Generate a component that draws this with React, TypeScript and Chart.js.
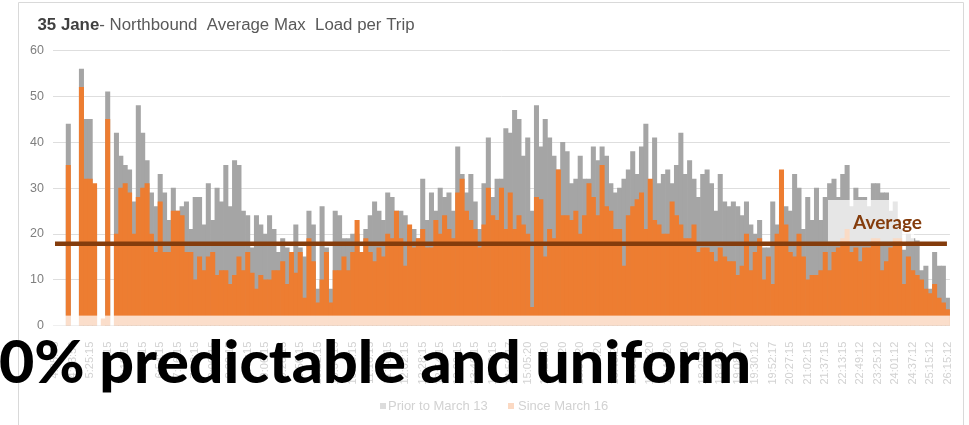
import React, { useEffect, useRef } from "react";
import { Chart, registerables } from "chart.js";

Chart.register(...registerables);

// Average max load per trip, by departure time (one bar per trip)
const PRIOR: (number | null)[] = [
  null, null, null, 44, null, null, 56, 45, 45, 30,
  null, null, 51, null, 42, 37, 35, 34, 27, 48,
  42, 36, 29, 26, 33, 29, 23, 30, 25, 26,
  27, 21, 28, 28, 22, 31, 23, 30, 27, 35,
  26, 36, 35, 25, 24, 17, 24, 22, 20, 24,
  21, 16, 19, 17, 16, 22, 17, 15, 25, 22,
  8, 26, 17, 8, 25, 24, 19, 19, 20, 20,
  16, 21, 24, 27, 25, 23, 29, 28, 25, 25,
  24, 21, 21, 19, 32, 23, 29, 25, 30, 28,
  29, 25, 39, 33, 29, 33, 27, 21, 31, 41,
  28, 32, 32, 43, 42, 47, 45, 37, 41, 25,
  48, 39, 45, 41, 37, 34, 40, 38, 31, 32,
  37, 32, 32, 39, 36, 39, 37, 31, 29, 30,
  32, 34, 38, 33, 39, 44, 31, 41, 31, 33,
  34, 31, 35, 42, 33, 36, 32, 28, 33, 34,
  31, 25, 33, 27, 26, 27, 26, 24, 27, 22,
  20, 23, 17, 17, 27, 22, 24, 26, 25, 33,
  30, 21, 28, 23, 30, 23, 28, 31, 32, 28,
  33, 35, 26, 30, 28, 28, 26, 31, 31, 29,
  29, 25, 27, 21, 16.5, 20, 19, 18.5, 12, 13,
  8, 16, 13, 13, 6,
];

const SINCE: (number | null)[] = [
  null, null, null, 35, null, null, 52, 32, 32, 31,
  null, 1.5, 45, null, 20, 30, 31, 29, 20, 28,
  30, 31, 20, 16, 27, 16, 16, 25, 25, 24,
  16, 16, 10, 15, 12, 15, 16, 11, 12, 12,
  9, 11, 15, 12, 16, 11.5, 8, 11, 10, 10,
  12, 12, 14, 9, 16, 11.5, 16, 6, 19, 14,
  5, 10, 16, 5, 12, 12, 15, 12, 16, 23,
  16, 19, 16, 14, 17, 15, 20, 19, 25, 19,
  13, 22, 17, 19, 21, 17, 17, 23, 20, 24,
  21, 19, 29, 32, 25, 23, 21, 17, 22, 30,
  24, 23, 30, 21, 29, 21, 24, 22, 20, 4,
  28, 27.5, 15, 21, 19, 34, 24, 24, 23, 25,
  20, 24, 31, 28, 24, 35, 26, 25, 21, 21,
  13, 24, 26, 27.5, 29, 21, 32, 23, 22, 20,
  20, 27, 24, 22, 19, 19, 22, 16, 17, 17,
  16, 14, 17, 15, 14, 14, 11, 13, 20, 12,
  16, 19, 10, 15, 9, 20, 34, 22, 16, 15,
  20, 15, 10, 11, 11, 12, 16, 12, 16, 17,
  19, 21, 16, 17, 14, 17, 17, 19, 19, 12,
  14, 17, 19, 19, 9, 15, 12, 11, 10, 8,
  7, 9, 6, 5, 3.5,
];

// Departure times shown on the axis (every fourth trip)
const TICK_LABELS: string[] = [
  "4:25:56", "4:53:56", "5:25:15", "5:48:15", "6:10:15", "6:32:15", "6:54:15", "7:16:15",
  "7:38:15", "8:00:15", "8:22:15", "8:44:15", "9:06:15", "9:28:15", "9:50:15", "10:12:15",
  "10:34:15", "10:56:15", "11:18:15", "11:40:15", "12:02:15", "12:28:15", "12:54:15", "13:20:15",
  "13:46:15", "14:12:15", "14:50:17", "15:05:20", "15:25:20", "15:45:20", "16:05:20", "16:25:20",
  "16:45:20", "17:05:20", "17:25:20", "17:45:20", "18:05:20", "18:25:20", "18:45:20", "19:08:17",
  "19:30:12", "19:52:17", "20:27:15", "21:02:15", "21:37:15", "22:13:15", "22:49:12", "23:25:12",
  "24:01:12", "24:37:12", "25:15:12", "26:15:12",
];

const AVERAGE = 17.9;
const BAND_TOP = 2.2;

const SERIES_PRIOR = "Prior to March 13";
const SERIES_SINCE = "Since March 16";

const CATEGORIES = PRIOR.map((_, i) => (i % 4 === 0 ? TICK_LABELS[i / 4] ?? "" : ""));

function fitText(ctx: CanvasRenderingContext2D, text: string, x: number, y: number, width: number) {
  const w = ctx.measureText(text).width;
  ctx.save();
  ctx.translate(x, y);
  ctx.scale(width / w, 1);
  ctx.fillText(text, 0, 0);
  ctx.restore();
}

const decorations = {
  id: "decorations",
  afterDraw(chart: any) {
    const { ctx, chartArea: a, scales } = chart;
    const y = scales.y;
    ctx.save();

    // outer frame
    ctx.strokeStyle = "#d9d9d9";
    ctx.lineWidth = 1;
    ctx.beginPath();
    ctx.moveTo(18.5, 425);
    ctx.lineTo(18.5, 2.5);
    ctx.lineTo(963.5, 2.5);
    ctx.lineTo(963.5, 425);
    ctx.stroke();

    // pale band along the base of the bars
    const bandTop = y.getPixelForValue(BAND_TOP);
    const base = y.getPixelForValue(0);
    ctx.fillStyle = "rgba(255,255,255,0.75)";
    ctx.fillRect(a.left, bandTop, a.right - a.left, base - bandTop);

    // average line with its label box
    const yAvg = y.getPixelForValue(AVERAGE);
    ctx.fillStyle = "rgba(255,255,255,0.72)";
    ctx.fillRect(828, 200, 86, yAvg - 2 - 200);
    ctx.strokeStyle = "#843c0c";
    ctx.lineWidth = 4.5;
    ctx.beginPath();
    ctx.moveTo(a.left + 2, yAvg);
    ctx.lineTo(a.right - 3, yAvg);
    ctx.stroke();
    ctx.fillStyle = "#843c0c";
    ctx.font = "bold 18px Lato";
    ctx.textBaseline = "alphabetic";
    fitText(ctx, "Average", 853, 228.5, 69);

    // title
    const bold = "35 Jane";
    const rest = "- Northbound  Average Max  Load per Trip";
    ctx.font = "bold 16px 'Liberation Sans'";
    const wb = ctx.measureText(bold).width;
    ctx.font = "16px 'Liberation Sans'";
    const wr = ctx.measureText(rest).width;
    const k = 377 / (wb + wr);
    ctx.save();
    ctx.translate(37.5, 30);
    ctx.scale(k, 1);
    ctx.font = "bold 16px 'Liberation Sans'";
    ctx.fillStyle = "#404040";
    ctx.fillText(bold, 0, 0);
    ctx.font = "16px 'Liberation Sans'";
    ctx.fillStyle = "#595959";
    ctx.fillText(rest, wb, 0);
    ctx.restore();

    // legend
    ctx.font = "13px 'Liberation Sans'";
    ctx.textBaseline = "middle";
    ctx.fillStyle = "#dcdcdc";
    ctx.fillRect(380, 403, 6, 6);
    ctx.fillStyle = "#d2d2d2";
    ctx.fillText(SERIES_PRIOR, 388, 406.5);
    ctx.fillStyle = "#fbd9c3";
    ctx.fillRect(508, 403, 6, 6);
    ctx.fillStyle = "#d2d2d2";
    ctx.fillText(SERIES_SINCE, 518, 406.5);

    // headline
    ctx.fillStyle = "#000000";
    ctx.font = "900 59px Lato";
    ctx.textBaseline = "alphabetic";
    fitText(ctx, "0% predictable and uniform", -1, 383, 752);

    ctx.restore();
  },
};

export default function App() {
  const canvasRef = useRef<HTMLCanvasElement | null>(null);

  useEffect(() => {
    const canvas = canvasRef.current;
    if (!canvas) return;
    const chart = new Chart(canvas, {
      type: "bar",
      data: {
        labels: CATEGORIES,
        datasets: [
          {
            label: SERIES_SINCE,
            data: SINCE,
            backgroundColor: "#ed7d31",
            grouped: false,
            barPercentage: 1,
            categoryPercentage: 1,
            borderWidth: 0,
            order: 0,
          } as any,
          {
            label: SERIES_PRIOR,
            data: PRIOR,
            backgroundColor: "#a5a5a5",
            grouped: false,
            barPercentage: 1,
            categoryPercentage: 1,
            borderWidth: 0,
            order: 1,
          } as any,
        ],
      },
      options: {
        responsive: false,
        animation: false,
        devicePixelRatio: 1,
        layout: { padding: { left: 0, right: 19, top: 50.7, bottom: 0 } },
        plugins: {
          legend: { display: false },
          title: { display: false },
          tooltip: { enabled: false },
        },
        scales: {
          x: {
            grid: { display: false },
            border: { display: false },
            ticks: {
              autoSkip: false,
              minRotation: 90,
              maxRotation: 90,
              padding: 8,
              color: "#d2d2d2",
              font: { size: 11, family: "'Liberation Sans'" },
            },
            afterFit: (s: any) => {
              s.height = 99.3;
            },
          },
          y: {
            min: 0,
            max: 60,
            grid: { color: "#dedede", drawTicks: false },
            border: { display: false },
            ticks: {
              stepSize: 10,
              padding: 9,
              color: "#7f7f7f",
              font: { size: 12.5, family: "'Liberation Sans'" },
            },
            afterFit: (s: any) => {
              s.width = 53;
            },
          },
        },
      },
      plugins: [decorations],
    });
    return () => chart.destroy();
  }, []);

  return (
    <div style={{ position: "absolute", left: 0, top: 0, width: 969, height: 425, background: "#ffffff" }}>
      <canvas ref={canvasRef} width={969} height={425} />
    </div>
  );
}
